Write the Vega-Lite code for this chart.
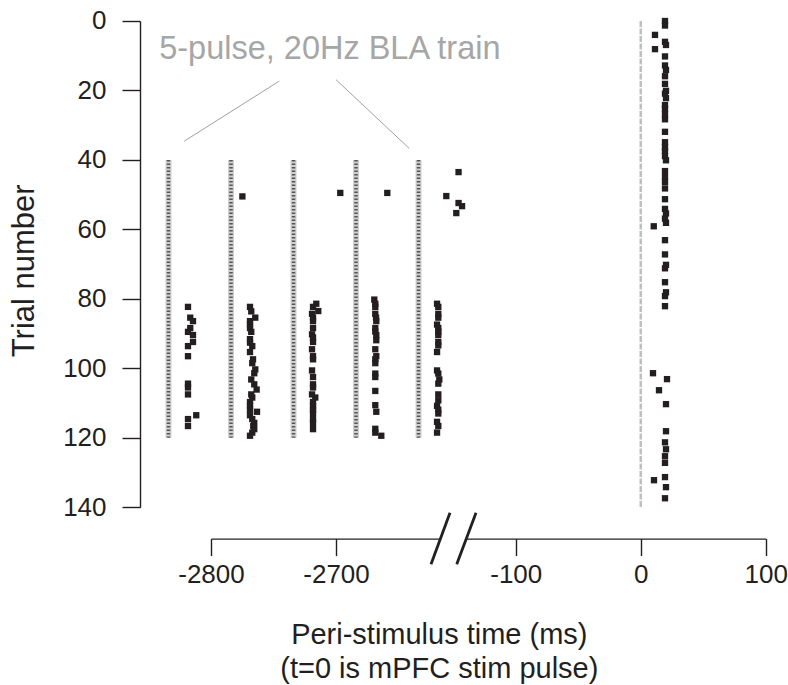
{
  "$schema": "https://vega.github.io/schema/vega-lite/v6.json",
  "background": "white",
  "padding": {"left": 8, "top": 8, "right": 0, "bottom": 0},
  "bounds": "flush",
  "spacing": 26,
  "datasets": {
    "bla": [
      {"time": -2834, "start": 40, "end": 120},
      {"time": -2784, "start": 40, "end": 120},
      {"time": -2734, "start": 40, "end": 120},
      {"time": -2684, "start": 40, "end": 120},
      {"time": -2634, "start": 40, "end": 120}
    ],
    "mpfc": [{"time": 0, "start": 0, "end": 140}],
    "note": [{"time": -2841.4, "trial": 11.0, "label": "5-pulse, 20Hz BLA train"}],
    "leaders": [
      {"t1": -2821.4, "y1": 34.6, "t2": -2745.4, "y2": 17.3},
      {"t1": -2700.0, "y1": 16.9, "t2": -2641.4, "y2": 36.7}
    ],
    "breaks": [
      {"t1": -167.8, "y1": 156.4, "t2": -152.6, "y2": 141.6},
      {"t1": -147.2, "y1": 156.4, "t2": -131.8, "y2": 141.6}
    ],
    "spikesL": [
      {"time": -2818.4, "trial": 82.3}, {"time": -2816.6, "trial": 85.4}, {"time": -2814.4, "trial": 86.4},
      {"time": -2816.6, "trial": 88.4}, {"time": -2818.4, "trial": 89.5}, {"time": -2814.4, "trial": 90.4},
      {"time": -2814.4, "trial": 92.4}, {"time": -2818.4, "trial": 93.6}, {"time": -2818.4, "trial": 96.5},
      {"time": -2818.4, "trial": 104.4}, {"time": -2818.4, "trial": 105.5}, {"time": -2818.4, "trial": 107.5},
      {"time": -2811.8, "trial": 113.5}, {"time": -2818.4, "trial": 114.6}, {"time": -2818.4, "trial": 116.6},
      {"time": -2774.9, "trial": 50.5},
      {"time": -2768.8, "trial": 82.3}, {"time": -2767.8, "trial": 83.6}, {"time": -2764.6, "trial": 85.4},
      {"time": -2768.8, "trial": 86.4}, {"time": -2768.8, "trial": 87.4}, {"time": -2768.8, "trial": 88.4},
      {"time": -2767.8, "trial": 89.5}, {"time": -2768.8, "trial": 91.6}, {"time": -2768.8, "trial": 92.6},
      {"time": -2767.0, "trial": 93.6}, {"time": -2768.8, "trial": 95.3}, {"time": -2766.4, "trial": 97.4},
      {"time": -2767.0, "trial": 98.5}, {"time": -2764.6, "trial": 100.3}, {"time": -2765.4, "trial": 101.4},
      {"time": -2767.8, "trial": 103.2}, {"time": -2765.4, "trial": 104.6}, {"time": -2763.5, "trial": 106.1},
      {"time": -2767.8, "trial": 107.5}, {"time": -2767.0, "trial": 108.4}, {"time": -2768.8, "trial": 109.7},
      {"time": -2768.8, "trial": 110.8}, {"time": -2768.8, "trial": 111.9}, {"time": -2763.2, "trial": 112.5},
      {"time": -2768.8, "trial": 113.5}, {"time": -2767.0, "trial": 114.6}, {"time": -2765.4, "trial": 115.7},
      {"time": -2766.2, "trial": 116.6}, {"time": -2765.4, "trial": 117.5}, {"time": -2767.0, "trial": 118.5},
      {"time": -2768.8, "trial": 119.4},
      {"time": -2696.6, "trial": 49.5},
      {"time": -2715.8, "trial": 81.4}, {"time": -2718.4, "trial": 82.3}, {"time": -2714.2, "trial": 83.5},
      {"time": -2719.2, "trial": 84.3}, {"time": -2718.4, "trial": 85.4}, {"time": -2718.4, "trial": 86.4},
      {"time": -2718.4, "trial": 88.4}, {"time": -2719.2, "trial": 90.2}, {"time": -2718.4, "trial": 91.1},
      {"time": -2718.4, "trial": 92.4}, {"time": -2719.2, "trial": 94.5}, {"time": -2718.4, "trial": 96.5},
      {"time": -2718.4, "trial": 97.4}, {"time": -2719.2, "trial": 100.6}, {"time": -2718.4, "trial": 102.5},
      {"time": -2718.4, "trial": 104.6}, {"time": -2718.4, "trial": 105.5}, {"time": -2719.2, "trial": 107.5},
      {"time": -2716.6, "trial": 108.4}, {"time": -2718.4, "trial": 109.7}, {"time": -2718.4, "trial": 110.8},
      {"time": -2718.4, "trial": 111.9}, {"time": -2718.4, "trial": 112.8}, {"time": -2718.4, "trial": 114.6},
      {"time": -2718.4, "trial": 115.7}, {"time": -2718.4, "trial": 117.5},
      {"time": -2659.0, "trial": 49.5},
      {"time": -2669.4, "trial": 80.2}, {"time": -2668.6, "trial": 81.4}, {"time": -2668.6, "trial": 82.3},
      {"time": -2668.6, "trial": 84.3}, {"time": -2668.0, "trial": 85.4}, {"time": -2667.8, "trial": 86.4},
      {"time": -2668.6, "trial": 88.4}, {"time": -2668.6, "trial": 89.4}, {"time": -2667.8, "trial": 90.4},
      {"time": -2667.8, "trial": 91.9}, {"time": -2668.6, "trial": 94.5}, {"time": -2667.8, "trial": 96.5},
      {"time": -2668.6, "trial": 97.4}, {"time": -2668.6, "trial": 98.5}, {"time": -2668.6, "trial": 101.5},
      {"time": -2668.6, "trial": 102.5}, {"time": -2668.6, "trial": 106.5}, {"time": -2668.6, "trial": 110.6},
      {"time": -2667.8, "trial": 112.5}, {"time": -2668.6, "trial": 117.4}, {"time": -2668.6, "trial": 118.5},
      {"time": -2663.8, "trial": 119.4},
      {"time": -2602.0, "trial": 43.5}, {"time": -2611.8, "trial": 50.4}, {"time": -2602.0, "trial": 52.4},
      {"time": -2599.2, "trial": 53.3}, {"time": -2603.8, "trial": 55.3},
      {"time": -2619.2, "trial": 81.4}, {"time": -2618.2, "trial": 82.3}, {"time": -2618.2, "trial": 84.3},
      {"time": -2618.2, "trial": 85.4}, {"time": -2619.2, "trial": 87.4}, {"time": -2618.2, "trial": 88.4},
      {"time": -2618.2, "trial": 89.4}, {"time": -2618.2, "trial": 90.4}, {"time": -2618.2, "trial": 92.4},
      {"time": -2618.2, "trial": 93.4}, {"time": -2619.2, "trial": 95.3}, {"time": -2619.2, "trial": 100.6},
      {"time": -2618.2, "trial": 101.5}, {"time": -2617.4, "trial": 103.2}, {"time": -2618.2, "trial": 104.4},
      {"time": -2618.2, "trial": 107.5}, {"time": -2618.2, "trial": 109.2}, {"time": -2619.2, "trial": 110.8},
      {"time": -2618.2, "trial": 111.9}, {"time": -2618.2, "trial": 113.0}, {"time": -2619.2, "trial": 115.4},
      {"time": -2618.2, "trial": 116.6}, {"time": -2619.2, "trial": 118.5}
    ],
    "spikesR": [
      {"time": 19.4, "trial": 0.0}, {"time": 19.4, "trial": 1.3}, {"time": 11.4, "trial": 4.0},
      {"time": 19.4, "trial": 6.0}, {"time": 20.2, "trial": 6.9}, {"time": 11.4, "trial": 8.1},
      {"time": 19.4, "trial": 10.2}, {"time": 19.4, "trial": 12.8}, {"time": 20.2, "trial": 14.1},
      {"time": 19.4, "trial": 15.9}, {"time": 19.4, "trial": 18.1}, {"time": 20.2, "trial": 20.1},
      {"time": 19.4, "trial": 20.9}, {"time": 20.2, "trial": 22.2}, {"time": 19.4, "trial": 24.2},
      {"time": 19.4, "trial": 25.3}, {"time": 19.4, "trial": 26.9}, {"time": 19.4, "trial": 28.3},
      {"time": 19.4, "trial": 31.9}, {"time": 19.4, "trial": 34.9}, {"time": 19.4, "trial": 36.3},
      {"time": 19.4, "trial": 37.4}, {"time": 19.4, "trial": 38.9}, {"time": 20.2, "trial": 40.1},
      {"time": 19.4, "trial": 43.2}, {"time": 19.4, "trial": 44.9}, {"time": 19.4, "trial": 46.3},
      {"time": 19.4, "trial": 48.2}, {"time": 19.4, "trial": 51.3}, {"time": 19.4, "trial": 54.1},
      {"time": 20.2, "trial": 55.4}, {"time": 19.4, "trial": 56.9}, {"time": 20.2, "trial": 58.1},
      {"time": 10.4, "trial": 59.1}, {"time": 19.4, "trial": 63.1}, {"time": 19.4, "trial": 67.2},
      {"time": 20.2, "trial": 70.2}, {"time": 19.4, "trial": 71.2}, {"time": 19.4, "trial": 75.2},
      {"time": 20.2, "trial": 78.1}, {"time": 19.4, "trial": 79.2}, {"time": 19.4, "trial": 82.1},
      {"time": 9.8, "trial": 101.4}, {"time": 21.0, "trial": 103.1}, {"time": 14.6, "trial": 106.3},
      {"time": 20.2, "trial": 110.3}, {"time": 20.2, "trial": 118.1}, {"time": 19.4, "trial": 121.3},
      {"time": 20.2, "trial": 123.3}, {"time": 19.4, "trial": 125.3}, {"time": 19.4, "trial": 127.2},
      {"time": 19.4, "trial": 131.3}, {"time": 10.6, "trial": 132.2}, {"time": 20.2, "trial": 134.2},
      {"time": 19.4, "trial": 137.4}
    ]
  },
  "hconcat": [
    {
      "width": 228.3,
      "height": 486.3,
      "layer": [
        {
          "data": {"name": "bla"},
          "mark": {"type": "rule", "strokeWidth": 6, "color": "#cfcfcf"},
          "encoding": {
            "x": {
              "field": "time", "type": "quantitative",
              "scale": {"domain": [-2800, -2617.4], "nice": false, "zero": false},
              "axis": {
                "offset": 31.3, "values": [-2800, -2700], "labelPadding": 6,
                "labelExpr": "'' + datum.value",
                "title": ["Peri-stimulus time (ms)", "(t=0 is mPFC stim pulse)"],
                "titleFontSize": 29, "titleX": 227.8, "titleY": 81.8,
                "titleBaseline": "top", "titleLineHeight": 34, "titleAlign": "center"
              }
            },
            "y": {
              "field": "start", "type": "quantitative",
              "scale": {"domain": [0, 140], "reverse": true, "nice": false, "zero": false},
              "axis": {
                "offset": 71, "values": [0, 20, 40, 60, 80, 100, 120, 140],
                "tickSize": 18, "labelPadding": 16,
                "labelExpr": "'' + datum.value",
                "title": "Trial number", "titleFontSize": 31, "titleAngle": 270,
                "titleX": -115.7, "titleY": 249.3, "titleAlign": "center", "titleBaseline": "middle"
              }
            },
            "y2": {"field": "end"}
          }
        },
        {
          "data": {"name": "bla"},
          "mark": {"type": "rule", "strokeWidth": 3.5, "color": "#555555", "strokeDash": [1.5, 2]},
          "encoding": {
            "x": {"field": "time", "type": "quantitative"},
            "y": {"field": "start", "type": "quantitative"},
            "y2": {"field": "end"}
          }
        },
        {
          "data": {"name": "spikesL"},
          "mark": {"type": "square", "size": 40, "opacity": 1, "color": "#231f20"},
          "encoding": {
            "x": {"field": "time", "type": "quantitative"},
            "y": {"field": "trial", "type": "quantitative"}
          }
        },
        {
          "data": {"name": "leaders"},
          "mark": {"type": "rule", "strokeWidth": 1, "color": "#a0a0a0"},
          "encoding": {
            "x": {"field": "t1", "type": "quantitative"},
            "x2": {"field": "t2"},
            "y": {"field": "y1", "type": "quantitative"},
            "y2": {"field": "y2"}
          }
        },
        {
          "data": {"name": "note"},
          "mark": {"type": "text", "align": "left", "baseline": "alphabetic", "fontSize": 32.5, "color": "#a6a6a6"},
          "encoding": {
            "x": {"field": "time", "type": "quantitative"},
            "y": {"field": "trial", "type": "quantitative"},
            "text": {"field": "label"}
          }
        }
      ]
    },
    {
      "width": 299.75,
      "height": 486.3,
      "layer": [
        {
          "data": {"name": "mpfc"},
          "mark": {"type": "rule", "strokeWidth": 2.5, "color": "#c0c0c0", "strokeDash": [6, 1.5]},
          "encoding": {
            "x": {
              "field": "time", "type": "quantitative",
              "scale": {"domain": [-139.8, 100], "nice": false, "zero": false},
              "axis": {"offset": 31.3, "values": [-100, 0, 100], "labelPadding": 6, "labelExpr": "'' + datum.value", "title": null}
            },
            "y": {
              "field": "start", "type": "quantitative",
              "scale": {"domain": [0, 140], "reverse": true, "nice": false, "zero": false},
              "axis": null
            },
            "y2": {"field": "end"}
          }
        },
        {
          "data": {"name": "spikesR"},
          "mark": {"type": "square", "size": 40, "opacity": 1, "color": "#231f20"},
          "encoding": {
            "x": {"field": "time", "type": "quantitative", "title": null},
            "y": {"field": "trial", "type": "quantitative", "axis": null}
          }
        },
        {
          "data": {"name": "breaks"},
          "mark": {"type": "rule", "strokeWidth": 2.8, "color": "#231f20"},
          "encoding": {
            "x": {"field": "t1", "type": "quantitative", "title": null},
            "x2": {"field": "t2"},
            "y": {"field": "y1", "type": "quantitative", "axis": null},
            "y2": {"field": "y2"}
          }
        }
      ]
    }
  ],
  "config": {
    "view": {"stroke": null},
    "font": "Liberation Sans",
    "axis": {
      "grid": false,
      "domainColor": "#231f20", "tickColor": "#231f20",
      "labelColor": "#231f20", "titleColor": "#231f20",
      "labelFont": "Liberation Sans", "titleFont": "Liberation Sans",
      "labelFontSize": 26, "titleFontWeight": "normal",
      "domainWidth": 1.4, "tickWidth": 1.4, "tickSize": 17,
      "labelFlush": false, "labelOverlap": false
    }
  }
}
